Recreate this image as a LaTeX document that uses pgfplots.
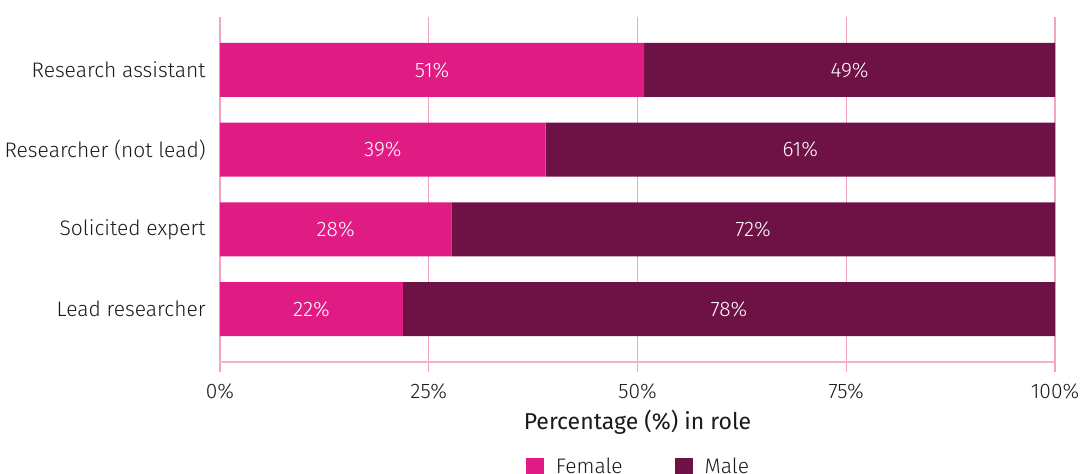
\documentclass[border=0pt]{standalone}
\usepackage{pgfplots}
\pgfplotsset{compat=1.18}
\usepackage{fontspec}
\setmainfont{Fira Sans}[UprightFont={* Light}]
\newfontfamily\firareg{Fira Sans}
\definecolor{fem}{HTML}{E01C84}
\definecolor{mal}{HTML}{6E1246}
\definecolor{gridc}{HTML}{F2A5C3}
\definecolor{axc}{HTML}{F2B3C9}
\definecolor{txt}{HTML}{1A1A1A}
\begin{document}
\begin{tikzpicture}
\pgfplotsset{common/.style={
  at={(110pt,-181pt)}, anchor=south west,
  scale only axis, width=417.5pt, height=172.5pt,
  xmin=0, xmax=100, ymin=-0.665, ymax=3.665,
}}
\begin{axis}[common,
  xbar stacked, bar width=27pt,
  axis x line*=bottom, axis y line*=left,
  x axis line style={axc, line width=0.9pt},
  y axis line style={draw=none},
  xtick={0,25,50,75,100},
  xticklabels={0\%,25\%,50\%,75\%,100\%},
  xtick pos=bottom, tick align=outside,
  major tick length=5pt,
  xtick style={gridc, line width=0.75pt},
  xmajorgrids, grid style={gridc, line width=0.75pt},
  xticklabel style={font=\fontsize{10.5}{12}\selectfont, text=txt, inner sep=0pt, yshift=-5.5pt},
  ytick={0,1,2,3},
  yticklabels={Lead researcher, Solicited expert, Researcher (not lead), Research assistant},
  ytick style={draw=none},
  yticklabel style={font=\fontsize{10.5}{12}\selectfont, text=txt, inner sep=0pt, xshift=-2pt},
  xlabel={\firareg Percentage (\%) in role},
  xlabel style={font=\fontsize{11.5}{14}\selectfont, text=txt, at={(axis description cs:0.5,-0.174)}, anchor=center},
  legend image code/.code={\fill[#1] (0pt,-4.5pt) rectangle (9pt,4.5pt);},
  legend columns=2,
  legend style={draw=none, fill=none, at={(0.5,-0.304)}, anchor=center,
    font=\fontsize{10.5}{12}\selectfont, text=txt,
    nodes={inner sep=0pt},
    /tikz/every odd column/.append style={column sep=6pt},
    /tikz/every even column/.append style={column sep=26pt}},
  legend cell align=left,
]
\addplot[fill=fem, draw=none, forget plot] coordinates {(21.9,0) (27.7,1) (39.0,2) (50.8,3)};
\addplot[fill=mal, draw=none, forget plot] coordinates {(78.1,0) (72.3,1) (61.0,2) (49.2,3)};
\addlegendimage{fill=fem, draw=none}
\addlegendentry{Female}
\addlegendimage{fill=mal, draw=none}
\addlegendentry{Male}
\end{axis}
\begin{axis}[common, hide axis,
  nodes near coords, point meta=explicit symbolic,
  nodes near coords style={anchor=center, text=white, font=\fontsize{10.5}{12}\selectfont},
]
\addplot[draw=none, mark=none] coordinates {(10.95,0)[22\%] (13.85,1)[28\%] (19.5,2)[39\%] (25.4,3)[51\%]};
\addplot[draw=none, mark=none] coordinates {(60.95,0)[78\%] (63.85,1)[72\%] (69.5,2)[61\%] (75.4,3)[49\%]};
\end{axis}
\pgfresetboundingbox
\path (0,0) rectangle (541.5pt,-237pt);
\end{tikzpicture}
\end{document}
